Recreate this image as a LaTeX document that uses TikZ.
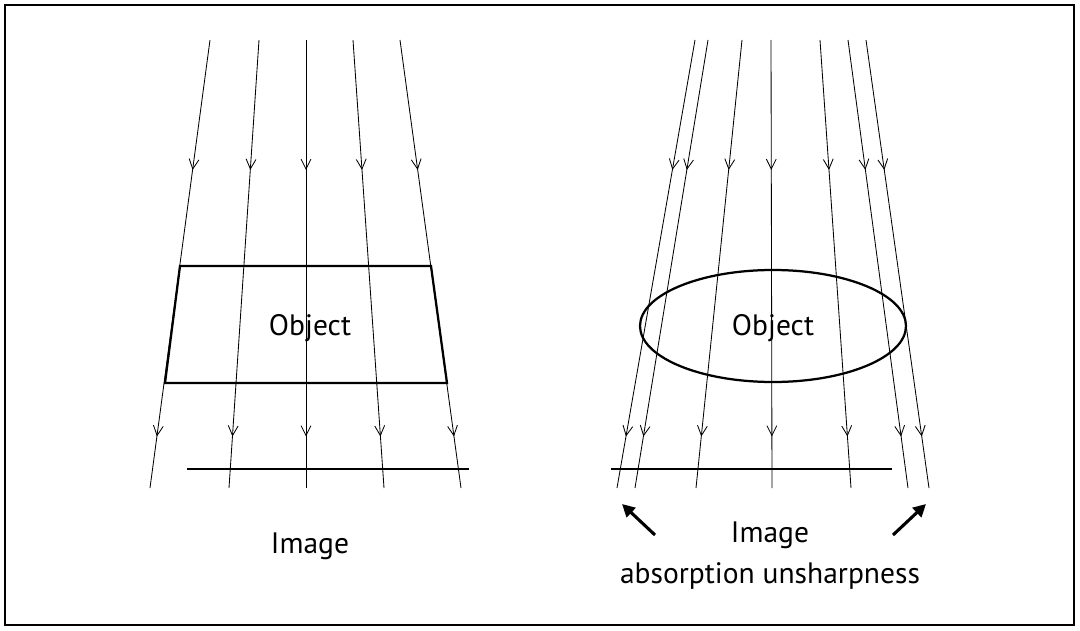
\documentclass[tikz,border=0pt]{standalone}
\usepackage{fontspec}
\setmainfont{PT Sans}
\usetikzlibrary{arrows.meta,decorations.markings}
\begin{document}
\begin{tikzpicture}[x=0.025cm,y=-0.025cm,
  ray/.style={line width=0.6pt,postaction={decorate},decoration={markings,
    mark=at position 0.29 with {\arrow{Straight Barb[length=7pt,width=7pt]}},
    mark=at position 0.885 with {\arrow{Straight Barb[length=7pt,width=7pt]}}}},
  thick line/.style={line width=1.6pt},
  lbl/.style={font=\fontsize{21}{24}\selectfont}]
\useasboundingbox (0,0) rectangle (1080,631);
\draw[line width=1pt] (5,5) rectangle (1074,625);
% left
\foreach \a/\b in {210/150,259/229,306/306,353/384,400/461}
  \draw[ray] (\a,40) -- (\b,488);
\draw[thick line] (180,266) -- (431,266) -- (447,383) -- (165,383) -- cycle;
\node[lbl] (obj1) at (310,328) {Object};
\draw[thick line] (187,469) -- (469,469);
\node[lbl] (img1) at (310,546) {Image};
% right
\foreach \a/\b in {695/617,708/635,742/696,771/772,820/851,848/908,866/929}
  \draw[ray] (\a,40) -- (\b,488);
\draw[thick line] (773,326) ellipse [x radius=133,y radius=56];
\node[lbl] (obj2) at (773,328) {Object};
\draw[thick line] (611,469) -- (892,469);
\node[lbl] (img2) at (770,535) {Image};
\node[lbl] (abs) at (770,576) {absorption unsharpness};
\coordinate (la) at (655,535); \coordinate (lb) at (622,504);
\coordinate (ra) at (893,535); \coordinate (rb) at (926,504);
\draw[line width=2.2pt,-{Triangle[length=9pt,width=9pt]}] (la) -- (lb);
\draw[line width=2.2pt,-{Triangle[length=9pt,width=9pt]}] (ra) -- (rb);
\end{tikzpicture}
\end{document}
